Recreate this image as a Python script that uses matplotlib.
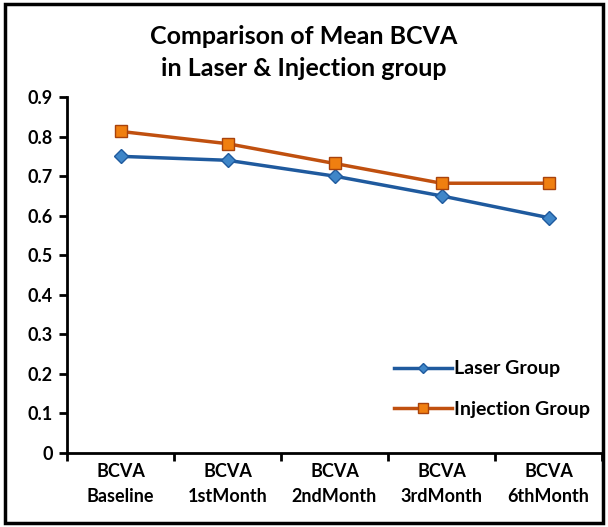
import matplotlib.pyplot as plt
import matplotlib.patches as mpatches

categories = ['BCVA\nBaseline', 'BCVA\n1stMonth', 'BCVA\n2ndMonth', 'BCVA\n3rdMonth', 'BCVA\n6thMonth']
laser = [0.75, 0.74, 0.70, 0.65, 0.595]
injection = [0.813, 0.782, 0.732, 0.682, 0.682]

plt.rcParams['font.family'] = ['Lato', 'DejaVu Sans']

fig = plt.figure(figsize=(6.08, 5.27), dpi=100)
ax = fig.add_axes([67/608, 1 - 453/527, 535/608, (453 - 97)/527])

x = list(range(len(categories)))
ax.plot(x, laser, color='#1F5A9E', lw=2.5, marker='D', ms=7,
        mfc='#3F86C8', mec='#1F5A9E', label='Laser Group')
ax.plot(x, injection, color='#C0500F', lw=2.5, marker='s', ms=9,
        mfc='#F07F10', mec='#A8420C', label='Injection Group')

ax.set_xlim(-0.5, len(categories) - 0.5)
ax.set_ylim(0, 0.9)
ax.set_yticks([i / 10 for i in range(10)])
ax.set_yticklabels(['0'] + [f'{i/10:.1f}' for i in range(1, 10)], fontsize=13, fontweight='bold')
ax.set_xticks([i + 0.5 for i in range(-1, len(categories))])
ax.set_xticklabels([])
ax.tick_params(axis='x', length=6, width=2)
ax.tick_params(axis='y', length=6, width=2, pad=4)
for i, c in enumerate(categories):
    ax.text(i, -0.025, c, ha='center', va='top', fontsize=13, fontweight='bold',
            transform=ax.transData, linespacing=1.55)
ax.spines['top'].set_visible(False)
ax.spines['right'].set_visible(False)
ax.spines['left'].set_linewidth(2)
ax.spines['bottom'].set_linewidth(2)

ax.legend(loc='lower right', bbox_to_anchor=(1.01, 0.05), frameon=False,
          prop={'size': 14, 'weight': 'bold'}, handlelength=3.0, handletextpad=0.1,
          labelspacing=1.2, markerscale=0.75)

fig.text(0.5, 0.9, 'Comparison of Mean BCVA\nin Laser & Injection group',
         ha='center', va='center', fontsize=18, fontweight='bold', linespacing=1.45)

fig.patches.append(mpatches.Rectangle((0.008, 0.008), 0.984, 0.984, transform=fig.transFigure,
                                      fill=False, ec='black', lw=2.5))

fig.savefig('out.png', dpi=100)
